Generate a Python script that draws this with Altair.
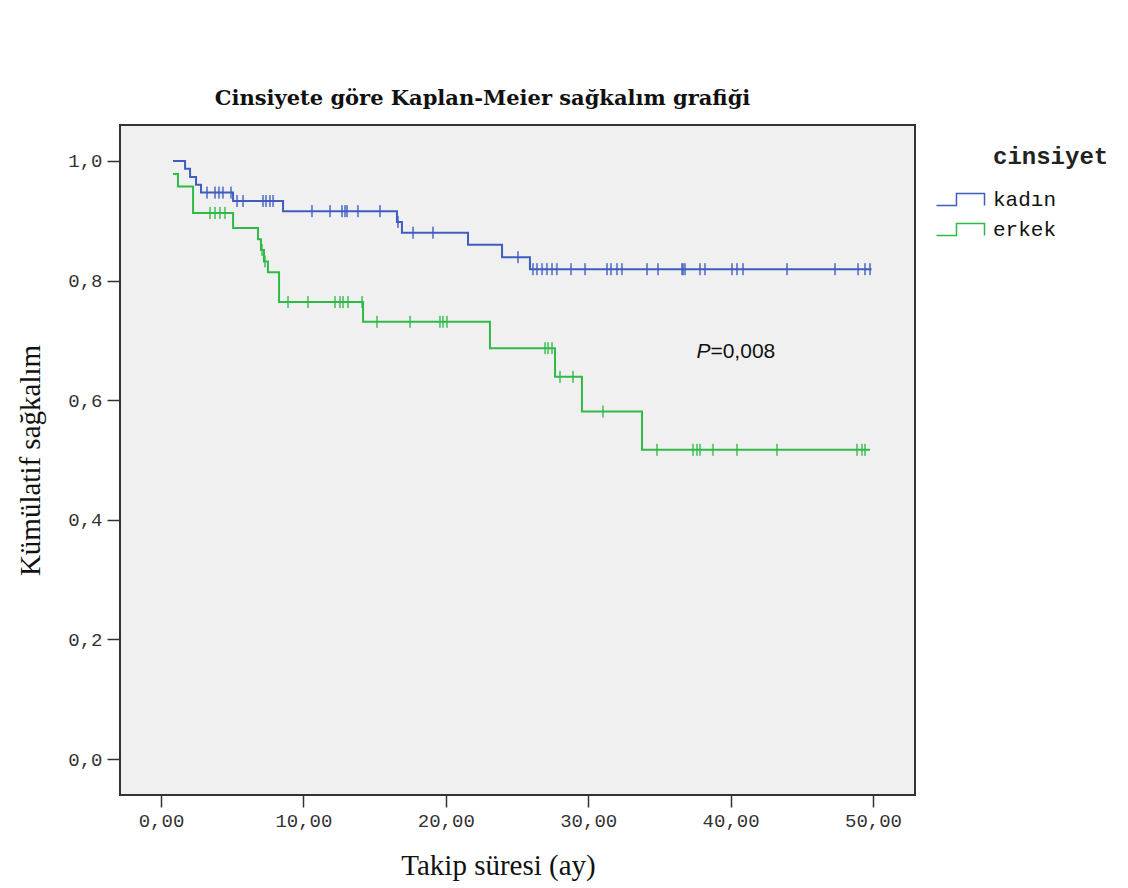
import altair as alt
import pandas as pd

groups = ["kadın", "erkek"]
colors = ["#3f5cbf", "#2fba48"]

# Step curves: time (ay) and survival after that time
kadin_t = [0.84, 1.69, 2.04, 2.46, 2.81, 5.06, 8.57, 16.57, 16.92, 21.56, 23.95, 25.91, 49.9]
kadin_s = [1.0, 0.987, 0.973, 0.960, 0.947, 0.933, 0.916, 0.898, 0.880, 0.860, 0.839, 0.819, 0.819]
kadin_cens = [3.23, 3.79, 4.07, 4.35, 4.92, 5.34, 5.76, 7.16, 7.37, 7.65, 7.87, 10.6, 11.87,
              12.71, 12.92, 13.06, 13.83, 15.38, 16.64, 17.70, 19.1, 25.07, 26.12, 26.4, 26.76,
              27.1, 27.46, 27.8, 28.79, 29.78, 31.32, 31.6, 32.02, 32.37, 34.13, 34.9, 36.59,
              36.66, 36.8, 37.85, 38.2, 40.1, 40.45, 40.87, 43.96, 47.33, 48.95, 49.44, 49.79]

erkek_t = [0.84, 1.19, 2.25, 5.06, 6.81, 7.02, 7.23, 7.51, 8.29, 14.19, 23.10, 27.67, 29.56, 33.78, 49.79]
erkek_s = [0.978, 0.957, 0.913, 0.888, 0.869, 0.851, 0.832, 0.814, 0.764, 0.731, 0.687, 0.639, 0.581, 0.517, 0.517]
erkek_cens = [3.44, 3.79, 4.14, 4.49, 7.09, 7.30, 8.92, 10.32, 12.22, 12.57, 12.78, 13.13, 14.12,
              15.17, 17.49, 19.59, 19.80, 20.08, 26.97, 27.18, 27.46, 28.02, 28.93, 31.04, 34.83,
              37.36, 37.64, 37.85, 38.76, 40.45, 43.26, 48.88, 49.23, 49.44]

x_ticks = [0, 10, 20, 30, 40, 50]
y_ticks = [0.0, 0.2, 0.4, 0.6, 0.8, 1.0]

p_text_x = 37.6
p_text_y = 0.681


def lookup(ts, ss, t):
    val = ss[0]
    for ti, si in zip(ts, ss):
        if ti <= t:
            val = si
    return val


curve_rows = []
for g, ts, ss in [("kadın", kadin_t, kadin_s), ("erkek", erkek_t, erkek_s)]:
    for i, (t, s) in enumerate(zip(ts, ss)):
        curve_rows.append({"grp": g, "t": t, "s": s, "o": i})
curves = pd.DataFrame(curve_rows)

cens_rows = []
for g, ts, ss, cs in [("kadın", kadin_t, kadin_s, kadin_cens), ("erkek", erkek_t, erkek_s, erkek_cens)]:
    for c in cs:
        cens_rows.append({"grp": g, "t": c, "s": lookup(ts, ss, c)})
cens = pd.DataFrame(cens_rows)

xscale = alt.Scale(domain=[-2.88, 52.95], nice=False, zero=False)
yscale = alt.Scale(domain=[-0.06, 1.06], nice=False, zero=False)
cscale = alt.Scale(domain=groups, range=colors)

xaxis = alt.Axis(values=x_ticks, labelExpr="replace(format(datum.value, '.2f'), '.', ',')",
                 grid=False, domain=False, tickSize=12, tickWidth=1.5, tickColor="#333",
                 labelFont="Liberation Mono", labelFontSize=19, labelColor="#333", labelPadding=4,
                 title="Takip süresi (ay)", titleFont="Liberation Serif", titleFontSize=29,
                 titleFontWeight="normal", titleColor="#111", titleX=378, titleY=70,
                 titleAlign="center", titleBaseline="middle")
yaxis = alt.Axis(values=y_ticks, labelExpr="replace(format(datum.value, '.1f'), '.', ',')",
                 grid=False, domain=False, tickSize=13, tickWidth=1.5, tickColor="#333",
                 labelFont="Liberation Mono", labelFontSize=19, labelColor="#333", labelPadding=5,
                 title="Kümülatif sağkalım", titleFont="Liberation Serif", titleFontSize=29,
                 titleFontWeight="normal", titleColor="#111", titleX=-90, titleY=335,
                 titleAngle=270, titleAlign="center", titleBaseline="middle")

# step-shaped legend symbol, drawn as a thin filled outline
step_symbol = "M-4,0.875H-0.795V-1.125H4.125V1H3.875V-0.875H-0.545V1.125H-4Z"
legend = alt.Legend(title=None, orient="none", legendX=830, legendY=64,
                    symbolType=step_symbol, symbolSize=144, symbolStrokeWidth=0,
                    labelFont="Liberation Mono", labelFontSize=21, labelColor="#111",
                    labelOffset=22, rowPadding=8, padding=0)

lines = alt.Chart(curves).mark_line(interpolate="step-after", strokeWidth=2).encode(
    x=alt.X("t:Q", scale=xscale, axis=xaxis),
    y=alt.Y("s:Q", scale=yscale, axis=yaxis),
    color=alt.Color("grp:N", scale=cscale, legend=legend),
    order="o:Q",
    detail="grp:N",
)

ticks = alt.Chart(cens).mark_tick(orient="vertical", size=12, thickness=2).encode(
    x=alt.X("t:Q", scale=xscale),
    y=alt.Y("s:Q", scale=yscale),
    color=alt.Color("grp:N", scale=cscale, legend=None),
)

pdf = pd.DataFrame({"t": [p_text_x], "s": [p_text_y], "a": ["P"], "b": ["=0,008"]})
p_italic = alt.Chart(pdf).mark_text(font="Liberation Sans", fontSize=21, fontStyle="italic",
                                     align="left", baseline="middle", color="#111").encode(
    x=alt.X("t:Q", scale=xscale), y=alt.Y("s:Q", scale=yscale), text="a:N")
p_rest = alt.Chart(pdf).mark_text(font="Liberation Sans", fontSize=21, dx=14,
                                   align="left", baseline="middle", color="#111").encode(
    x=alt.X("t:Q", scale=xscale), y=alt.Y("s:Q", scale=yscale), text="b:N")

leg_title = alt.Chart(pd.DataFrame({"t": ["cinsiyet"]})).mark_text(
    font="Liberation Mono", fontSize=24, fontWeight="bold", align="left", baseline="middle",
    color="#222").encode(x=alt.value(873), y=alt.value(32), text="t:N")

chart = alt.layer(lines, ticks, p_italic, p_rest, leg_title).properties(
    width=795, height=670,
    background="white",
    padding={"left": 120, "top": 125, "right": 213, "bottom": 93},
    autosize=alt.AutoSizeParams(type="none"),
    title=alt.TitleParams("Cinsiyete göre Kaplan-Meier sağkalım grafiği", font="DejaVu Serif",
                          fontSize=21, fontWeight="bold", color="#111", anchor="middle",
                          dx=-35, offset=16),
).configure_view(fill="#f0f0f0", stroke="#333", strokeWidth=2)

chart.save("out.html", embed_options={"renderer": "svg", "actions": False})
